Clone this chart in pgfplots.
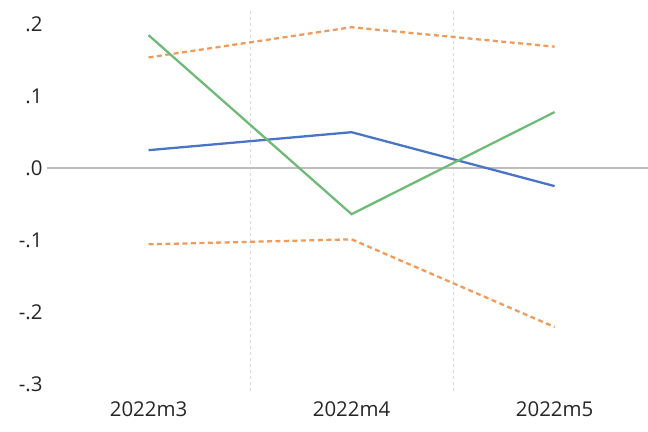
\documentclass[border=0pt]{standalone}
\usepackage{pgfplots}
\pgfplotsset{compat=1.18}
\usepackage{fontspec}
\setmainfont{Open Sans}
\definecolor{cblue}{RGB}{74,116,198}
\definecolor{cgreen}{RGB}{112,186,120}
\definecolor{corange}{RGB}{240,155,92}
\definecolor{czero}{RGB}{190,190,190}
\definecolor{cgrid}{RGB}{220,220,220}
\begin{document}
\begin{tikzpicture}
\useasboundingbox (-47bp,-41bp) rectangle (601bp,391bp);
\begin{axis}[
  at={(0,0)}, anchor=south west,
  scale only axis, width=601bp, height=381bp,
  xmin=0.5, xmax=3.46, ymin=-0.31, ymax=0.22,
  axis line style={draw=none},
  clip=false,
  xtick={1,2,3}, xticklabels={2022m3,2022m4,2022m5},
  minor xtick={1.5,2.5},
  minor x grid style={cgrid, dashed, line width=0.8pt},
  xminorgrids=true,
  ytick={-0.3,-0.2,-0.1,0,0.1,0.2},
  yticklabels={-.3,-.2,-.1,.0,.1,.2},
  major tick length=0pt, minor tick length=0pt,
  tick style={draw=none},
  ticklabel style={font=\fontsize{20.5}{24}\selectfont, text=black!85},
  yticklabel style={xshift=-1bp},
  xticklabel style={yshift=-7bp},
]
\addplot[czero, line width=2pt, forget plot] coordinates {(0.5,0) (3.46,0)};
\addplot[corange, line width=2.3pt, dash pattern=on 5pt off 3.5pt] coordinates {(1,0.154) (2,0.196) (3,0.169)};
\addplot[corange, line width=2.3pt, dash pattern=on 5pt off 3.5pt] coordinates {(1,-0.106) (2,-0.099) (3,-0.221)};
\addplot[cblue, line width=2.3pt] coordinates {(1,0.025) (2,0.050) (3,-0.025)};
\addplot[cgreen, line width=2.3pt] coordinates {(1,0.185) (2,-0.064) (3,0.078)};
\end{axis}
\end{tikzpicture}
\end{document}
